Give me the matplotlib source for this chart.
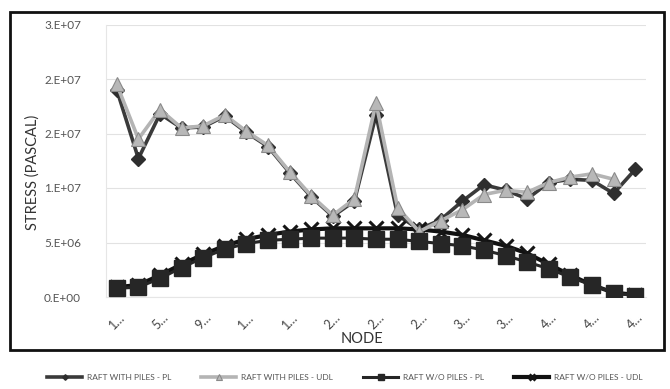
import numpy as np
import matplotlib
matplotlib.use("Agg")
import matplotlib.pyplot as plt
from matplotlib.patches import Rectangle

plt.rcParams['font.family'] = ['Lato', 'DejaVu Sans']

# Node numbers along the raft (every second node plotted)
nodes = list(range(1, 50, 2))

# Stress in Pascal
with_piles_pl = [19.0e6, 12.7e6, 16.8e6, 15.5e6, 15.6e6, 16.6e6, 15.1e6, 13.8e6, 11.4e6, 9.2e6,
                 7.4e6, 8.8e6, 16.7e6, 7.5e6, 6.2e6, 7.1e6, 8.8e6, 10.3e6, 9.8e6, 9.0e6,
                 10.5e6, 10.8e6, 10.7e6, 9.5e6, 11.7e6]
with_piles_udl = [19.5e6, 14.5e6, 17.2e6, 15.5e6, 15.7e6, 16.7e6, 15.2e6, 13.9e6, 11.5e6, 9.3e6,
                  7.5e6, 9.0e6, 17.8e6, 8.2e6, 6.0e6, 7.0e6, 8.0e6, 9.4e6, 9.8e6, 9.6e6,
                  10.5e6, 11.0e6, 11.3e6, 10.8e6, np.nan]
without_piles_pl = [0.8e6, 0.9e6, 1.7e6, 2.7e6, 3.6e6, 4.4e6, 4.9e6, 5.2e6, 5.3e6, 5.4e6,
                    5.4e6, 5.4e6, 5.3e6, 5.3e6, 5.1e6, 4.9e6, 4.7e6, 4.3e6, 3.8e6, 3.2e6,
                    2.6e6, 1.8e6, 1.1e6, 0.4e6, 0.1e6]
without_piles_udl = [0.9e6, 1.1e6, 2.0e6, 3.0e6, 3.9e6, 4.7e6, 5.3e6, 5.7e6, 6.0e6, 6.2e6,
                     6.3e6, 6.3e6, 6.3e6, 6.3e6, 6.2e6, 6.0e6, 5.7e6, 5.2e6, 4.7e6, 4.0e6,
                     3.0e6, 2.0e6, 1.1e6, 0.4e6, 0.2e6]

series_labels = ["RAFT WITH PILES - PL", "RAFT WITH PILES - UDL",
                 "RAFT W/O PILES - PL", "RAFT W/O PILES - UDL"]

y_ticks = [0, 5e6, 10e6, 15e6, 20e6, 25e6]
y_tick_labels = ["0.E+00", "5.E+06", "1.E+07", "2.E+07", "2.E+07", "3.E+07"]

x_tick_labels = [str(n)[0] + "\u2026" for n in nodes[::2]]

fig = plt.figure(figsize=(6.7, 3.89), dpi=100)
ax = fig.add_axes([106 / 670, 1 - 297 / 389, 540 / 670, (297 - 24.5) / 389])

x = np.arange(len(nodes))

ax.plot(x, with_piles_pl, color="#3a3a3a", lw=2.6, marker="D", ms=7,
        mfc="#2e2e2e", mec="#2e2e2e", label=series_labels[0], zorder=3)
ax.plot(x, with_piles_udl, color="#b4b4b4", lw=2.6, marker="^", ms=10,
        mfc="#b8b8b8", mec="#8a8a8a", mew=0.8, label=series_labels[1], zorder=4)
ax.plot(x, without_piles_udl, color="#111111", lw=3.0, marker="x", ms=10,
        mew=2.2, mec="#151515", label=series_labels[3], zorder=3)
ax.plot(x, without_piles_pl, color="#262626", lw=2.2, marker="s", ms=12,
        mfc="#262626", mec="#262626", label=series_labels[2], zorder=4)

ax.set_xlim(-0.5, len(nodes) - 0.5)
ax.set_ylim(0, 25e6)
ax.set_yticks(y_ticks)
ax.set_yticklabels(y_tick_labels)
ax.set_xticks(x[::2])
ax.set_xticklabels(x_tick_labels, rotation=45, ha="center", va="top")
ax.tick_params(axis="y", length=0, labelsize=8.5, colors="#555555", pad=18)
ax.tick_params(axis="x", length=0, labelsize=9, colors="#444444", pad=10)

ax.grid(axis="y", color="#e2e2e2", lw=0.8)
ax.set_axisbelow(True)
for side in ["top", "right"]:
    ax.spines[side].set_visible(False)
for side in ["left", "bottom"]:
    ax.spines[side].set_color("#e6e6e6")
    ax.spines[side].set_linewidth(0.8)

fig.text(33 / 670, 1 - 172 / 389, "STRESS (PASCAL)", rotation=90, ha="center",
         va="center", fontsize=10.5, color="#333333")
fig.text(362 / 670, 1 - 339 / 389, "NODE", ha="center", va="center",
         fontsize=10.5, color="#333333")

# Outer chart frame
fig.patches.append(Rectangle((10 / 670, 1 - 350 / 389), 654 / 670, 338 / 389,
                             transform=fig.transFigure, fill=False,
                             edgecolor="#111111", lw=2.0))

handles, labels = ax.get_legend_handles_labels()
order = [labels.index(s) for s in series_labels]
leg = fig.legend([handles[i] for i in order], [labels[i] for i in order],
                 loc="center", bbox_to_anchor=(0.515, 1 - 377 / 389), ncol=4,
                 frameon=False, fontsize=6, handlelength=4.2, columnspacing=3.6,
                 handletextpad=0.6, markerscale=0.4, labelcolor="#555555")

fig.savefig("out.png", dpi=100, facecolor="white")
